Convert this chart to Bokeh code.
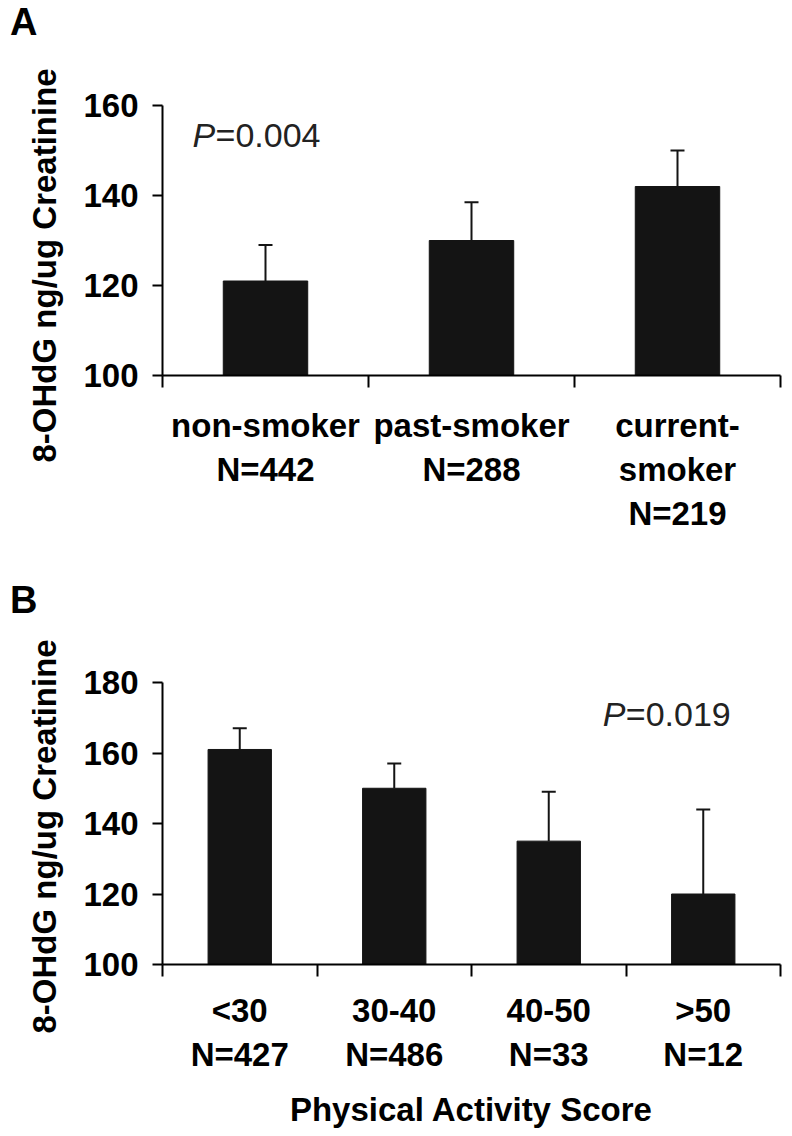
from bokeh.plotting import figure
from bokeh.layouts import column
from bokeh.models import Range1d, FixedTicker, Label, Title, Whisker, TeeHead, ColumnDataSource, Div
from bokeh.embed import file_html
from bokeh.resources import INLINE

# ---- Data ----
smoke_categories = ["non-smoker\nN=442", "past-smoker\nN=288", "current-\nsmoker\nN=219"]
smoke_means = [121, 130, 142]
smoke_upper = [129, 138.5, 150]
smoke_yticks = [100, 120, 140, 160]

activity_categories = ["<30\nN=427", "30-40\nN=486", "40-50\nN=33", ">50\nN=12"]
activity_means = [161, 150, 135, 120]
activity_upper = [167, 157, 149, 144]
activity_yticks = [100, 120, 140, 160, 180]

FONT = "Liberation Sans"
YTITLE = "8-OHdG ng/ug Creatinine"
BOLD_SIZE = "33px"


def make_panel(cats, means, upper, yticks, ptext, height, border_top,
               border_bottom, border_right, p_xy, ytitle_offset, label_standoff,
               xlabel=None):
    n = len(cats)
    xs = [i + 0.5 for i in range(n)]
    p = figure(width=790, height=height, output_backend="svg", toolbar_location=None,
               x_range=Range1d(0, n), y_range=Range1d(yticks[0], yticks[-1]),
               min_border_left=162, min_border_right=border_right,
               min_border_top=border_top, min_border_bottom=border_bottom)
    p.outline_line_color = None
    p.xgrid.visible = False
    p.ygrid.visible = False
    p.background_fill_color = "white"
    p.border_fill_color = "white"

    src = ColumnDataSource(dict(x=xs, top=means, upper=upper))
    p.vbar(x="x", top="top", bottom=yticks[0], width=0.41, source=src,
           fill_color="#141414", line_color="#141414")
    p.add_layout(Whisker(source=src, base="x", upper="upper", lower="top",
                         line_width=2, line_color="#141414",
                         upper_head=TeeHead(size=14, line_width=2, line_color="#141414"),
                         lower_head=None))

    # x axis: labels at category centres, ticks at category boundaries
    xa = p.xaxis[0]
    xa.ticker = FixedTicker(ticks=xs, minor_ticks=list(range(n + 1)))
    xa.major_label_overrides = {x: c for x, c in zip(xs, cats)}
    xa.major_tick_out = 0
    xa.major_tick_in = 0
    xa.minor_tick_out = 12
    xa.minor_tick_in = 0
    xa.minor_tick_line_width = 2
    xa.axis_line_width = 2
    xa.minor_tick_line_color = "black"
    xa.axis_line_color = "black"
    xa.major_label_text_font = FONT
    xa.major_label_text_font_style = "bold"
    xa.major_label_text_font_size = BOLD_SIZE
    xa.major_label_text_color = "black"
    xa.major_label_standoff = label_standoff
    if xlabel:
        xa.axis_label = xlabel
        xa.axis_label_text_font = FONT
        xa.axis_label_text_font_style = "bold"
        xa.axis_label_text_font_size = BOLD_SIZE
        xa.axis_label_text_color = "black"
        xa.axis_label_standoff = 15

    ya = p.yaxis[0]
    ya.ticker = FixedTicker(ticks=yticks)
    ya.major_tick_out = 10
    ya.major_tick_in = 0
    ya.major_tick_line_width = 2
    ya.axis_line_width = 2
    ya.major_tick_line_color = "black"
    ya.axis_line_color = "black"
    ya.minor_tick_line_color = None
    ya.major_label_text_font = FONT
    ya.major_label_text_font_style = "bold"
    ya.major_label_text_font_size = BOLD_SIZE
    ya.major_label_text_color = "black"
    ya.major_label_standoff = 14

    # y-axis title (a left-side title so that it can be offset along the axis)
    p.add_layout(Title(text=YTITLE, align="left", offset=ytitle_offset, standoff=36,
                       text_font=FONT, text_font_style="bold", text_font_size=BOLD_SIZE,
                       text_color="black"), "left")

    p.add_layout(Label(x=p_xy[0], y=p_xy[1], text="P", text_font=FONT,
                       text_font_style="italic", text_font_size="34px", text_color="#222222",
                       text_align="left", text_baseline="alphabetic"))
    p.add_layout(Label(x=p_xy[0], y=p_xy[1], x_offset=23, text=ptext, text_font=FONT,
                       text_font_style="normal", text_font_size="34px", text_color="#222222",
                       text_align="left", text_baseline="alphabetic"))
    return p


def letter_div(letter):
    return Div(text=letter, width=790, height=45, margin=0,
               styles={"font-family": FONT, "font-weight": "bold", "font-size": "38px",
                       "line-height": "45px", "padding-left": "10px", "color": "black",
                       "box-sizing": "border-box"})


pa = make_panel(smoke_categories, smoke_means, smoke_upper, smoke_yticks, "=0.004",
                height=533, border_top=60, border_bottom=203, border_right=10,
                p_xy=(0.146, 153.4), ytitle_offset=-87, label_standoff=19)
pb = make_panel(activity_categories, activity_means, activity_upper, activity_yticks,
                "=0.019", height=507, border_top=59, border_bottom=164, border_right=6,
                p_xy=(2.85, 171), ytitle_offset=-69, label_standoff=15,
                xlabel="Physical Activity Score")

layout = column(letter_div("A"), pa, letter_div("B"), pb, spacing=0)
open("out.html", "w").write(file_html(layout, INLINE))
